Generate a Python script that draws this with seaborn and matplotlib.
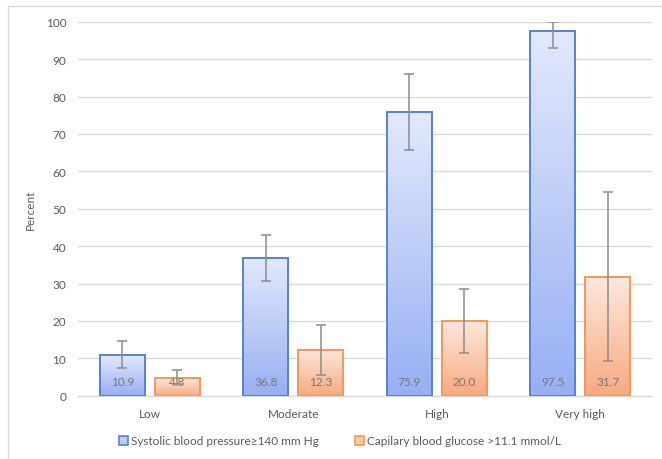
import numpy as np
import pandas as pd
import matplotlib
matplotlib.use("Agg")
import matplotlib.pyplot as plt
import seaborn as sns
from matplotlib.colors import LinearSegmentedColormap
from matplotlib.patches import Rectangle
from matplotlib.container import BarContainer

categories = ["Low", "Moderate", "High", "Very high"]
series_names = ["Systolic blood pressure\u2265140 mm Hg", "Capilary blood glucose >11.1 mmol/L"]
sbp_values = [10.9, 36.8, 75.9, 97.5]
sbp_low = [7.5, 30.6, 65.6, 92.9]
sbp_high = [14.5, 43.0, 86.1, 100.0]
glu_values = [4.8, 12.3, 20.0, 31.7]
glu_low = [3.0, 5.6, 11.3, 9.3]
glu_high = [6.8, 18.9, 28.6, 54.4]
y_ticks = [0, 10, 20, 30, 40, 50, 60, 70, 80, 90, 100]

sns.set_theme(style="white")
plt.rcParams['font.family'] = ['Lato', 'DejaVu Sans']

df = pd.DataFrame({
    "risk": categories * 2,
    "value": sbp_values + glu_values,
    "series": [series_names[0]] * 4 + [series_names[1]] * 4,
})

edge_cols = ["#5a80cf", "#f2985a"]
top_cols = ["#e2e9fc", "#fde8de"]
bot_cols = ["#97b0f3", "#f8a97f"]

fig = plt.figure(figsize=(6.62, 4.6), dpi=100)
ax = fig.add_axes([78 / 662, 1 - 396.7 / 460, (652 - 78) / 662, (396.7 - 22.7) / 460])

sns.barplot(data=df, x="risk", y="value", hue="series", order=categories,
            hue_order=series_names, palette=edge_cols, width=0.766, gap=0.18,
            errorbar=None, ax=ax, legend=False, zorder=3)

ax.set_ylim(0, 100)
ax.set_yticks(y_ticks)
ax.set_xlim(-0.5, 3.5)

lows = [sbp_low, glu_low]
highs = [sbp_high, glu_high]
vals = [sbp_values, glu_values]

bar_containers = [c for c in ax.containers if isinstance(c, BarContainer)]
grad = np.linspace(0, 1, 256).reshape(-1, 1)
for ci, container in enumerate(bar_containers):
    cmap = LinearSegmentedColormap.from_list("g", [bot_cols[ci], top_cols[ci]])
    for bi, patch in enumerate(container.patches):
        x0 = patch.get_x()
        w = patch.get_width()
        h = patch.get_height()
        im = ax.imshow(grad, cmap=cmap, origin="lower", aspect="auto",
                       extent=[x0, x0 + w, 0, h], zorder=3)
        im.set_clip_path(patch)
        patch.set_facecolor("none")
        patch.set_edgecolor(edge_cols[ci])
        patch.set_linewidth(1.4)
        patch.set_zorder(4)
        xc = x0 + w / 2
        v = vals[ci][bi]
        ax.errorbar([xc], [v],
                    yerr=[[v - lows[ci][bi]], [highs[ci][bi] - v]],
                    fmt="none", ecolor="#8c8c8c", elinewidth=1.1, capsize=3.5,
                    capthick=1.1, zorder=6)
        ax.text(xc, 3.7, f"{v:.1f}", ha="center", va="center", fontsize=8.5,
                color="#767676", zorder=5)

ax.set_xlim(-0.5, 3.5)
ax.set_ylim(0, 100)

ax.yaxis.grid(True, color="#d9d9d9", linewidth=1, zorder=0)
ax.set_axisbelow(True)
for s in ["top", "right", "left"]:
    ax.spines[s].set_visible(False)
ax.spines["bottom"].set_color("#d9d9d9")
ax.spines["bottom"].set_linewidth(1)
ax.tick_params(axis="both", length=0, labelsize=8.5, colors="#595959")
ax.tick_params(axis="y", pad=8.5)
ax.tick_params(axis="x", pad=9)
ax.set_xlabel("")
ax.set_ylabel("Percent", fontsize=8.5, color="#595959")
ax.yaxis.set_label_coords(-0.073, 0.5)

handles = [Rectangle((0, 0), 1, 1, facecolor=c2, edgecolor=c1, linewidth=1.2)
           for c1, c2 in zip(edge_cols, ["#bccdf8", "#fbc8ad"])]
fig.legend(handles, series_names, loc="center", bbox_to_anchor=(340 / 662, 1 - 442 / 460),
           ncol=2, frameon=False, fontsize=8.5, labelcolor="#595959",
           handlelength=0.75, handleheight=0.75, handletextpad=0.3, columnspacing=3.0)

fig.patches.append(Rectangle((8 / 662, -0.1), 1.2, (1 - 7 / 460) + 0.1,
                             transform=fig.transFigure, fill=False,
                             edgecolor="#d9d9d9", linewidth=1, zorder=0))

fig.savefig("out.png", dpi=100)
